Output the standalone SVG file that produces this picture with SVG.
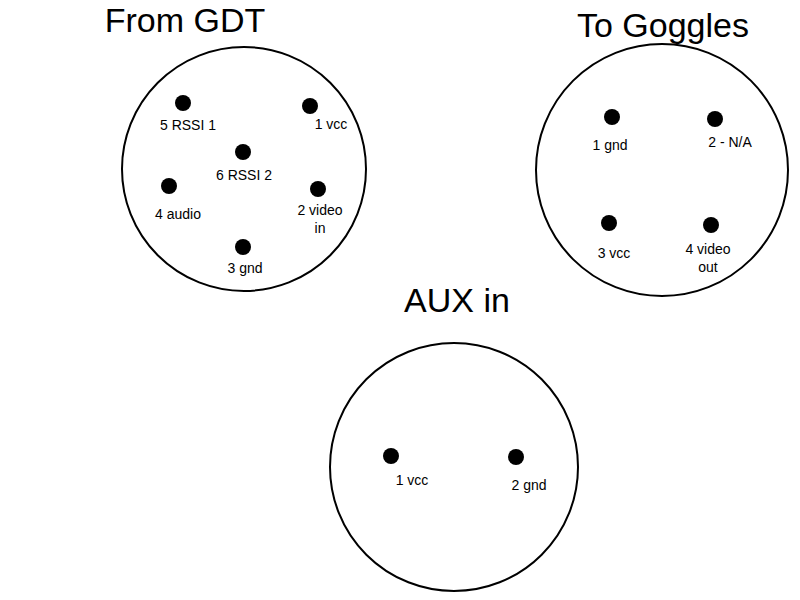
<svg xmlns="http://www.w3.org/2000/svg" width="800" height="600" viewBox="0 0 800 600">
<style>
.c{fill:#fff;stroke:#000;stroke-width:2}
.d{fill:#000}
text{font-family:"Liberation Sans",Arial,sans-serif;fill:#000}
.l{font-size:14px;text-anchor:middle}
.t{font-size:34px;text-anchor:middle}
</style>
<rect width="800" height="600" fill="#fff"/>
<g id="gdt">
<text class="t" x="185" y="32">From GDT</text>
<circle class="c" cx="244" cy="169" r="122"/>
<circle class="d" cx="183" cy="103" r="8"/><text class="l" x="188" y="130">5 RSSI 1</text>
<circle class="d" cx="310" cy="106" r="8"/><text class="l" x="331" y="129">1 vcc</text>
<circle class="d" cx="243" cy="152" r="8"/><text class="l" x="244" y="180">6 RSSI 2</text>
<circle class="d" cx="169" cy="186" r="8"/><text class="l" x="178" y="219">4 audio</text>
<circle class="d" cx="318" cy="189" r="8"/><text class="l" x="320" y="215">2 video</text><text class="l" x="320" y="233">in</text>
<circle class="d" cx="243" cy="247" r="8"/><text class="l" x="245" y="273">3 gnd</text>
</g>
<g id="goggles">
<text class="t" x="663" y="37">To Goggles</text>
<circle class="c" cx="662" cy="170" r="126"/>
<circle class="d" cx="612" cy="117" r="8"/><text class="l" x="610" y="150">1 gnd</text>
<circle class="d" cx="715" cy="119" r="8"/><text class="l" x="730" y="147">2 - N/A</text>
<circle class="d" cx="609" cy="223" r="8"/><text class="l" x="614" y="258">3 vcc</text>
<circle class="d" cx="711" cy="225" r="8"/><text class="l" x="708" y="254">4 video</text><text class="l" x="708" y="272">out</text>
</g>
<g id="aux">
<text class="t" x="457" y="312">AUX in</text>
<circle class="c" cx="454" cy="467" r="124"/>
<circle class="d" cx="391" cy="456" r="8"/><text class="l" x="412" y="485">1 vcc</text>
<circle class="d" cx="516" cy="457" r="8"/><text class="l" x="529" y="490">2 gnd</text>
</g>
<g id="connectors"/>
</svg>
